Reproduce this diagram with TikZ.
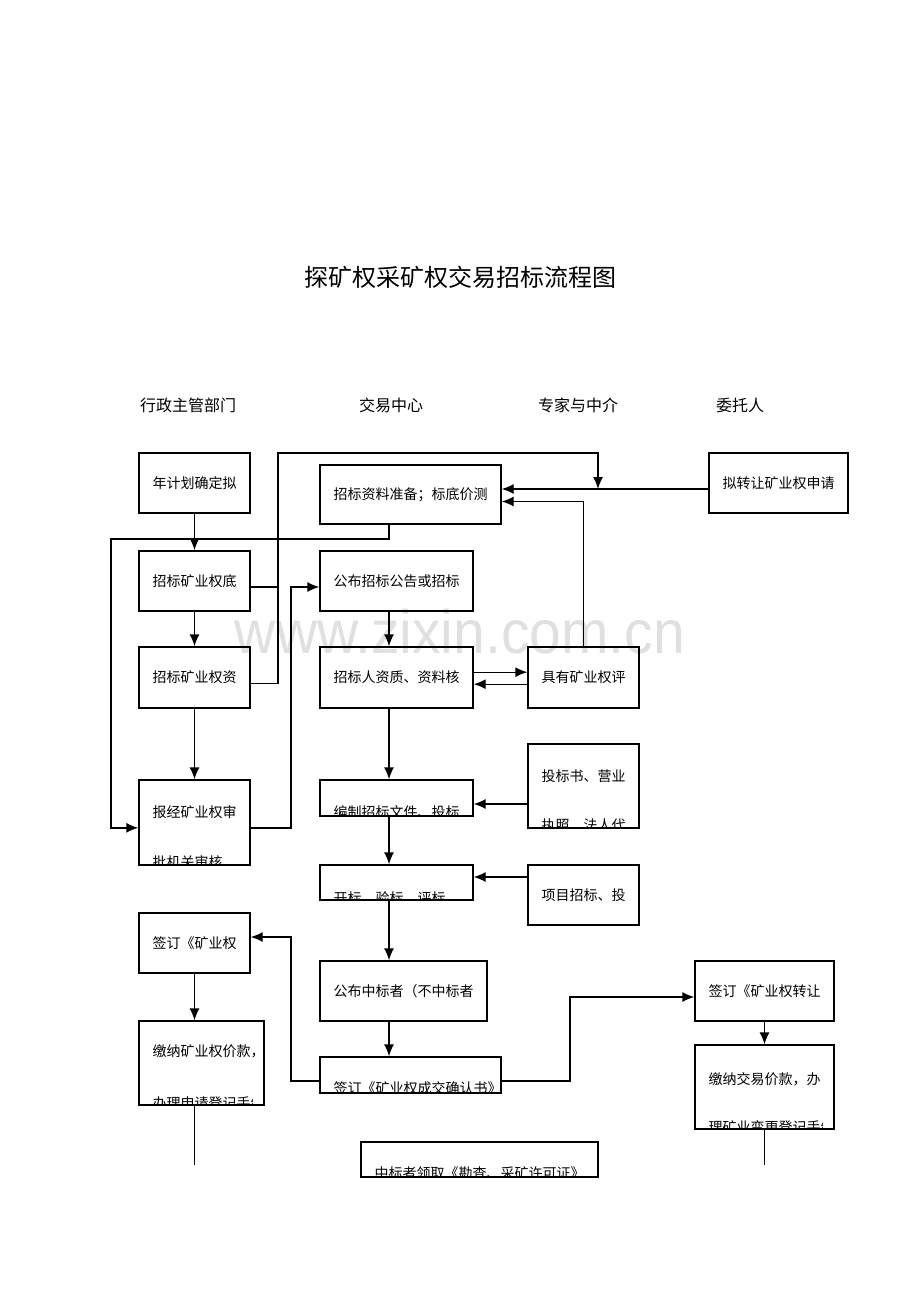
\documentclass[tikz,border=0pt]{standalone}
\usepackage{fontspec}
\newfontfamily\cjk{Noto Sans CJK SC}
\newfontfamily\wmfont{Liberation Sans}
\usetikzlibrary{arrows.meta}
\tikzset{
    block/.style = {
        draw,
        shape=rectangle,
        minimum width=83.25pt,
        minimum height=45pt,
        inner sep=0pt,
        font=\cjk\fontsize{10.5}{12}\selectfont
    },
    txtline/.style = {
        anchor=west,
        inner sep=0pt,
        font=\cjk\fontsize{10.5}{12}\selectfont
    },
    head/.style = {
        inner sep=0pt,
        font=\cjk\fontsize{12}{14}\selectfont
    },
    >={Latex[length=9pt,width=7.5pt]},
}

\begin{document}
\begin{tikzpicture}[x=0.75pt,y=-0.75pt,line width=1pt]
    \useasboundingbox (0,0) rectangle (920,1302);
    % watermark
    \node[anchor=base, inner sep=0pt, text=black!12, xscale=0.93,
        font=\wmfont\fontsize{46}{50}\selectfont] (wm) at (460,653) {www.zixin.com.cn};

    \node[inner sep=0pt, font=\cjk\fontsize{18}{22}\selectfont] (title) at (460,277) {探矿权采矿权交易招标流程图};
    \node[head] (h1) at (188,405) {行政主管部门};
    \node[head] (h2) at (391,405) {交易中心};
    \node[head] (h3) at (578,405) {专家与中介};
    \node[head] (h4) at (740,405) {委托人};

    \coordinate (cx) at (389,0);
    \coordinate (lx) at (111,539);
    \coordinate (rx) at (278,453);
    \coordinate (hit) at (598,489);
    \coordinate (gx) at (291,587);
    \coordinate (gy) at (291,937);
    \coordinate (sx) at (570,997);
    \coordinate (lend) at (194.5,1165);
    \coordinate (rend) at (764.5,1165);

    % texts cut off by their boxes
    \node[txtline] (baojing1) at (152,812) {报经矿业权审};
    \begin{scope}
        \clip (139,780) rectangle (250,865);
        \node[txtline] (baojing2) at (152,862) {批机关审核};
    \end{scope}
    \begin{scope}
        \clip (320,780) rectangle (473,816);
        \node[txtline] (bianzhi1) at (333,812) {编制招标文件、投标};
    \end{scope}
    \node[txtline] (toubiao1) at (541,776) {投标书、营业};
    \begin{scope}
        \clip (528,744) rectangle (639,828);
        \node[txtline] (toubiao2) at (541,825) {执照、法人代};
    \end{scope}
    \begin{scope}
        \clip (320,865) rectangle (473,900);
        \node[txtline] (kaibiao1) at (333,898) {开标、验标、评标};
    \end{scope}
    \node[txtline] (jiaona1) at (152,1051) {缴纳矿业权价款，};
    \begin{scope}
        \clip (139,1021) rectangle (252,1105);
        \node[txtline] (jiaona2) at (152,1103) {办理申请登记手续};
    \end{scope}
    \begin{scope}
        \clip (320,1057) rectangle (501,1093);
        \node[txtline] (chengjiao1) at (333,1088) {签订《矿业权成交确认书》};
    \end{scope}
    \node[txtline] (jiaoyi1) at (708,1079) {缴纳交易价款，办};
    \begin{scope}
        \clip (695,1045) rectangle (822,1129);
        \node[txtline] (jiaoyi2) at (708,1127) {理矿业变更登记手续};
    \end{scope}
    \begin{scope}
        \clip (361,1142) rectangle (598,1177);
        \node[txtline] (lingqu1) at (374,1173) {中标者领取《勘查、采矿许可证》};
    \end{scope}

    \node[block] (nian) at (194.5,483) {年计划确定拟};
    \node[block, minimum width=135.75pt, minimum height=44.25pt] (zhunbei) at (410.5,494.5) {招标资料准备；标底价测};
    \node[block, minimum width=104.25pt] (nizhuan) at (778.5,483) {拟转让矿业权申请};
    \node[block] (di) at (194.5,581) {招标矿业权底};
    \node[block, minimum width=114.75pt] (gongbu) at (396.5,581) {公布招标公告或招标};
    \node[block, minimum height=45.75pt] (zi) at (194.5,677.5) {招标矿业权资};
    \node[block, minimum width=114.75pt, minimum height=45.75pt] (hezhun) at (396.5,677.5) {招标人资质、资料核};
    \node[block, minimum height=45.75pt] (pinggu) at (583.5,677.5) {具有矿业权评};
    \node[block, minimum height=63.75pt] (baojing) at (194.5,822.5) {};
    \node[block, minimum width=114.75pt, minimum height=27pt] (bianzhi) at (396.5,798) {};
    \node[block, minimum height=63pt] (toubiao) at (583.5,786) {};
    \node[block, minimum width=114.75pt, minimum height=26.25pt] (kaibiao) at (396.5,882.5) {};
    \node[block] (xiangmu) at (583.5,895) {项目招标、投};
    \node[block] (qianding) at (194.5,943) {签订《矿业权};
    \node[block, minimum width=125.25pt] (zhongbiao) at (403.5,991) {公布中标者（不中标者};
    \node[block, minimum width=104.25pt] (zhuanrang) at (764.5,991) {签订《矿业权转让};
    \node[block, minimum width=93.75pt, minimum height=63pt] (jiaona) at (201.5,1063) {};
    \node[block, minimum width=135.75pt, minimum height=27pt] (chengjiao) at (410.5,1075) {};
    \node[block, minimum width=104.25pt, minimum height=63pt] (jiaoyi) at (764.5,1087) {};
    \node[block, minimum width=177.75pt, minimum height=26.25pt] (lingqu) at (479.5,1159.5) {};

    % connectors
    \draw[->] (nian) -- (di);
    \draw[->] (zhunbei.south -| cx) |- (lx) |- ([yshift=-4pt]baojing.west);
    \draw ([yshift=-4.5pt]di.east) -| (rx);
    \draw[->] ([yshift=-4.5pt]zi.east) -| (rx) -| (hit);
    \draw[->] ([yshift=-4.5pt]nizhuan.west) -- ([yshift=4.125pt]zhunbei.east);
    \draw[->] (pinggu.north) |- ([yshift=-5.25pt]zhunbei.east);
    \draw[->] (di) -- (zi);
    \draw[->] (zi) -- (baojing);
    \draw[->] ([yshift=-4pt]baojing.east) -| (gx) -- ([yshift=-4.5pt]gongbu.west);
    \draw[->] (gongbu.south -| cx) -- (hezhun.north -| cx);
    \draw[->] ([yshift=4pt]hezhun.east) -- ([yshift=4pt]pinggu.west);
    \draw[->] ([yshift=-5pt]pinggu.west) -- ([yshift=-5pt]hezhun.east);
    \draw[->] (hezhun.south -| cx) -- (bianzhi.north -| cx);
    \draw[->] ([yshift=-13.5pt]toubiao.west) -- ([yshift=-4.5pt]bianzhi.east);
    \draw[->] (bianzhi.south -| cx) -- (kaibiao.north -| cx);
    \draw[->] ([yshift=13.5pt]xiangmu.west) -- ([yshift=4.125pt]kaibiao.east);
    \draw[->] (kaibiao.south -| cx) -- (zhongbiao.north -| cx);
    \draw[->] (zhongbiao.south -| cx) -- (chengjiao.north -| cx);
    \draw[->] ([yshift=-4.5pt]chengjiao.west) -| (gy) -- ([yshift=4.5pt]qianding.east);
    \draw[->] ([yshift=-4.5pt]chengjiao.east) -| (sx) -- ([yshift=-4.5pt]zhuanrang.west);
    \draw[->] (qianding.south) -- (qianding.south |- jiaona.north);
    \draw (qianding.south |- jiaona.south) -- (lend);
    \draw[->] (zhuanrang) -- (jiaoyi);
    \draw (jiaoyi) -- (rend);
\end{tikzpicture}
\end{document}
